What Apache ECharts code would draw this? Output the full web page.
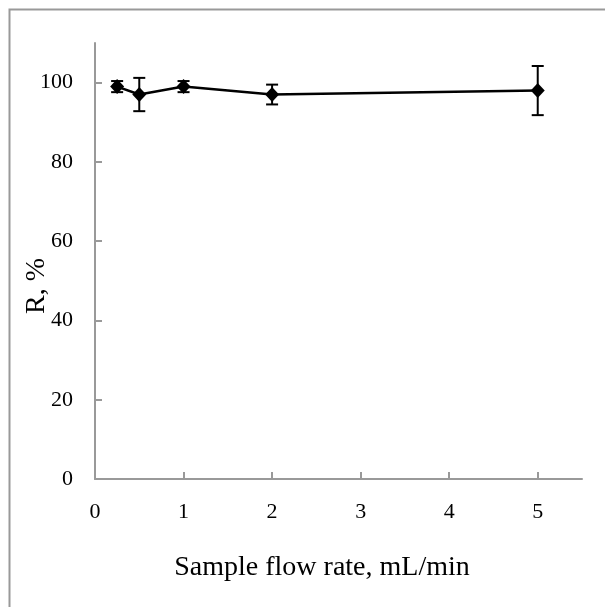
<!DOCTYPE html>
<html>
<head>
<meta charset="utf-8">
<script src="https://cdn.jsdelivr.net/npm/echarts@6/dist/echarts.min.js"></script>
<style>html,body{margin:0;padding:0;background:#fff;}#c{width:605px;height:607px;}</style>
</head>
<body>
<div id="c"></div>
<script>
const flowRates = [0.25, 0.5, 1, 2, 5];
const recovery = [99, 97, 99, 97, 98];
const errors = [1.4, 4.2, 1.4, 2.5, 6.2];
const xTicks = [0, 1, 2, 3, 4, 5];
const yTicks = [0, 20, 40, 60, 80, 100];
const xTitle = 'Sample flow rate, mL/min';
const yTitle = 'R, %';

const FONT = '"Liberation Serif", "Times New Roman", serif';
const axisCol = '#999999';
const chart = echarts.init(document.getElementById('c'), null, {renderer: 'canvas'});
const points = flowRates.map((x, i) => [x, recovery[i]]);
const errData = flowRates.map((x, i) => [x, recovery[i] - errors[i], recovery[i] + errors[i]]);

chart.setOption({
  animation: false,
  backgroundColor: '#fff',
  grid: {left: 95, right: 23, top: 43, bottom: 128, containLabel: false},
  xAxis: {
    type: 'value', min: 0, max: 5.5, interval: 1,
    splitLine: {show: false},
    axisLine: {lineStyle: {color: axisCol, width: 2}},
    axisTick: {inside: true, length: 7, lineStyle: {color: axisCol, width: 2}, customValues: xTicks},
    axisLabel: {color: '#000', fontFamily: FONT, fontSize: 22, margin: 22, customValues: xTicks}
  },
  yAxis: {
    type: 'value', min: 0, max: 110, interval: 20,
    splitLine: {show: false},
    axisLine: {show: true, lineStyle: {color: axisCol, width: 2}},
    axisTick: {show: true, inside: true, length: 7, lineStyle: {color: axisCol, width: 2}, customValues: yTicks},
    axisLabel: {color: '#000', fontFamily: FONT, fontSize: 22, margin: 22, customValues: yTicks}
  },
  graphic: [
    {type: 'rect', shape: {x: 9.5, y: 9.5, width: 800, height: 800}, style: {fill: 'none', stroke: '#999', lineWidth: 2}, silent: true, z: -10},
    {type: 'text', x: 322, y: 568, style: {text: xTitle, font: '28px ' + FONT, fill: '#000', textAlign: 'center', textVerticalAlign: 'middle'}},
    {type: 'text', x: 37, y: 286, rotation: Math.PI / 2, style: {text: yTitle, font: '28px ' + FONT, fill: '#000', textAlign: 'center', textVerticalAlign: 'middle'}}
  ],
  series: [
    {
      type: 'custom',
      data: errData,
      z: 3,
      renderItem: function (params, api) {
        const x = api.value(0);
        const lo = api.coord([x, api.value(1)]);
        const hi = api.coord([x, api.value(2)]);
        const hw = 6;
        const st = {stroke: '#000', lineWidth: 2};
        return {
          type: 'group',
          children: [
            {type: 'line', shape: {x1: lo[0], y1: lo[1], x2: hi[0], y2: hi[1]}, style: st},
            {type: 'line', shape: {x1: lo[0] - hw, y1: lo[1], x2: lo[0] + hw, y2: lo[1]}, style: st},
            {type: 'line', shape: {x1: hi[0] - hw, y1: hi[1], x2: hi[0] + hw, y2: hi[1]}, style: st}
          ]
        };
      }
    },
    {
      type: 'line',
      data: points,
      z: 4,
      symbol: 'diamond',
      symbolSize: [14, 15],
      lineStyle: {color: '#000', width: 2.5},
      itemStyle: {color: '#000'}
    }
  ]
});
</script>
</body>
</html>
